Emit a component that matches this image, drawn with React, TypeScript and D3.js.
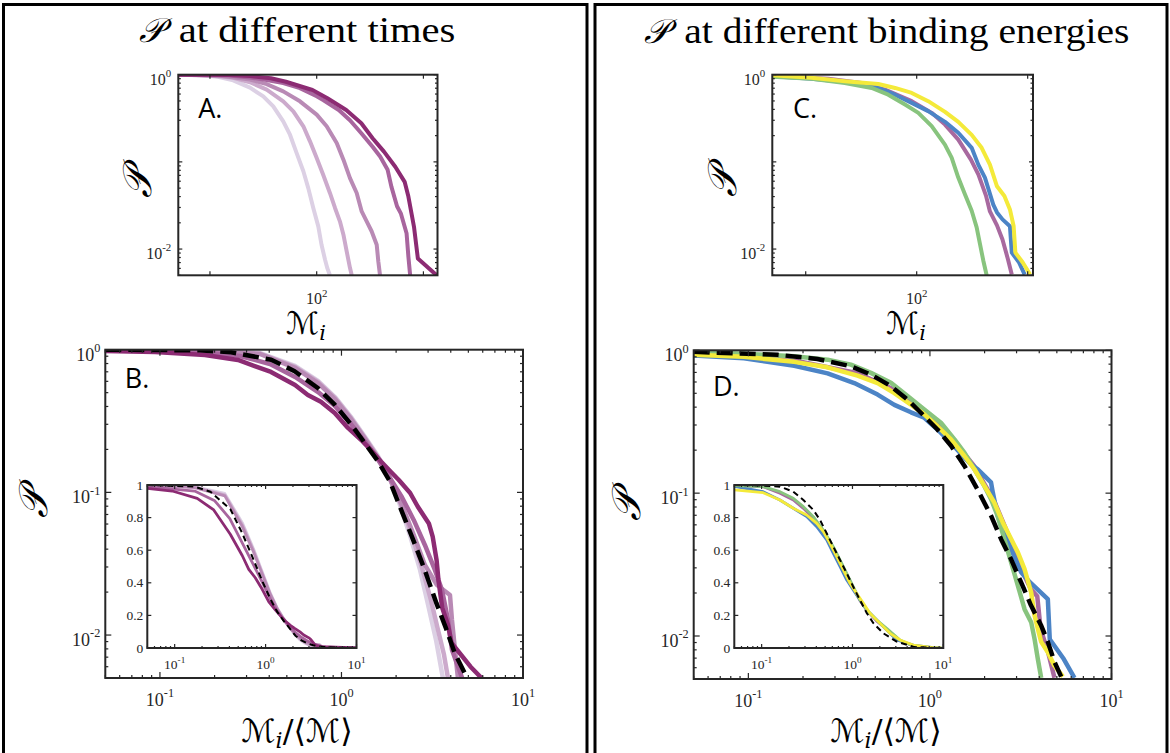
import React from 'react';
import * as d3 from 'd3';

type Pt = [number, number];

// ---------- Panel A : P vs M_i at different times (lightest -> darkest) ----------
const A_t5: Pt[] = [[5, 1], [8, 0.99], [11.6, 0.95], [16.5, 0.86], [23.7, 0.71], [31.6, 0.565], [39.2, 0.434], [48.6, 0.292], [56.2, 0.205], [64.9, 0.126], [75, 0.078], [83.4, 0.05], [92.9, 0.0296], [103.5, 0.0182], [111, 0.0112], [119.6, 0.0076], [126, 0.006], [133, 0.005]];
const A_t4: Pt[] = [[5, 1], [10, 0.98], [16.5, 0.92], [23.7, 0.82], [34, 0.673], [48.6, 0.495], [60.4, 0.38], [75, 0.256], [86.5, 0.172], [100, 0.111], [115, 0.0713], [133, 0.044], [148.5, 0.0296], [165, 0.0208], [178, 0.0146], [191, 0.0094], [205, 0.0061], [213, 0.005]];
const A_t3: Pt[] = [[5, 1], [12, 0.98], [23.7, 0.88], [34, 0.78], [48.6, 0.644], [69.7, 0.495], [100, 0.348], [124, 0.256], [154, 0.165], [178, 0.106], [205, 0.065], [237, 0.044], [264, 0.027], [294, 0.0208], [327, 0.016], [365, 0.0112], [378, 0.0072], [392, 0.005]];
const A_t2: Pt[] = [[5, 1], [15, 0.98], [23.7, 0.93], [34, 0.87], [48.6, 0.8], [69.7, 0.7], [100, 0.565], [116, 0.51], [161, 0.394], [205, 0.3], [262, 0.213], [334, 0.149], [393, 0.115], [462, 0.081], [501, 0.052], [566, 0.031], [614, 0.0257], [695, 0.0152], [723, 0.0082], [751, 0.005]];
const A_t1: Pt[] = [[5, 1], [15.4, 0.99], [23.7, 0.966], [37.3, 0.91], [51.5, 0.83], [91.2, 0.668], [126, 0.536], [189, 0.394], [262, 0.277], [334, 0.187], [427, 0.131], [545, 0.088], [667, 0.059], [723, 0.04], [816, 0.018], [887, 0.0078], [1330, 0.005]];
const timeColors = ['#dcd0e4', '#ccaacc', '#b98ab5', '#a8659e', '#8c2b73'];

// ---------- Panel C : P vs M_i at different binding energies ----------
const C_purple: Pt[] = [[5, 0.974], [16, 0.9], [32, 0.804], [51.8, 0.674], [90.2, 0.497], [136.5, 0.365], [180, 0.268], [237, 0.18], [308, 0.106], [360, 0.0714], [421, 0.041], [457, 0.027], [529, 0.0187], [593, 0.0129], [665, 0.0076], [719, 0.0051]];
const C_blue: Pt[] = [[5, 0.958], [11.3, 0.9], [22.6, 0.826], [45.1, 0.705], [63.8, 0.59], [90.2, 0.475], [127, 0.382], [180, 0.288], [237, 0.216], [313, 0.145], [359, 0.093], [412, 0.066], [490, 0.0324], [529, 0.0263], [593, 0.0219], [692, 0.0183], [719, 0.0091], [838, 0.007], [940, 0.0051]];
const C_green: Pt[] = [[5, 0.95], [11.3, 0.9], [22.5, 0.804], [39.3, 0.705], [55.4, 0.59], [78.5, 0.454], [103.5, 0.365], [136.5, 0.257], [179.6, 0.158], [206.5, 0.112], [237, 0.066], [272, 0.0426], [313, 0.0275], [347, 0.0177], [372, 0.0114], [398, 0.0074], [427, 0.005]];
const C_yellow: Pt[] = [[5, 0.984], [11.3, 0.92], [22.6, 0.841], [45.1, 0.783], [63.8, 0.705], [90.2, 0.618], [127, 0.497], [180, 0.375], [237, 0.288], [313, 0.204], [385, 0.145], [457, 0.093], [529, 0.0525], [617, 0.0406], [692, 0.0285], [747, 0.0184], [775, 0.0091], [903, 0.007], [1052, 0.0051]];
const energyColors = { blue: '#4c84c6', purple: '#a8699f', green: '#88c47e', yellow: '#f4ea3a' };

// ---------- Panel B : P vs M_i/<M> (times), also drawn in the inset ----------
const B_t1: Pt[] = [[0.05, 0.979], [0.094, 0.963], [0.177, 0.918], [0.269, 0.847], [0.409, 0.698], [0.555, 0.566], [0.653, 0.482], [0.77, 0.431], [0.918, 0.36], [1.086, 0.283], [1.285, 0.233], [1.459, 0.197], [1.656, 0.164], [1.874, 0.139], [2.07, 0.122], [2.39, 0.099], [2.63, 0.0796], [3.03, 0.0606], [3.18, 0.049], [3.34, 0.0337], [3.42, 0.0244], [3.59, 0.0155], [3.86, 0.0118], [4.04, 0.0088], [5.14, 0.006], [5.91, 0.005], [10, 0.0002]];
const B_t2: Pt[] = [[0.05, 0.99], [0.166, 0.963], [0.276, 0.903], [0.404, 0.794], [0.555, 0.644], [0.743, 0.505], [0.921, 0.403], [1.128, 0.301], [1.349, 0.226], [1.589, 0.169], [1.85, 0.126], [2.15, 0.0929], [2.5, 0.0641], [2.88, 0.0428], [3.27, 0.0286], [3.58, 0.0207], [3.86, 0.0128], [4.06, 0.0079], [4.62, 0.005], [10, 0.0002]];
const B_t3: Pt[] = [[0.05, 1], [0.166, 0.984], [0.356, 0.933], [0.555, 0.745], [0.743, 0.584], [0.921, 0.451], [1.128, 0.327], [1.349, 0.237], [1.589, 0.174], [1.85, 0.124], [2.15, 0.0816], [2.5, 0.0503], [2.88, 0.031], [3.36, 0.0224], [3.96, 0.0191], [4.06, 0.0128], [4.22, 0.0079], [4.38, 0.005], [10, 0.0002]];
const B_t4: Pt[] = [[0.05, 1], [0.166, 0.987], [0.356, 0.94], [0.555, 0.757], [0.743, 0.594], [0.921, 0.459], [1.128, 0.332], [1.349, 0.24], [1.589, 0.177], [1.85, 0.124], [2.13, 0.0816], [2.44, 0.0503], [2.78, 0.0295], [3.11, 0.0176], [3.4, 0.0109], [3.67, 0.0073], [3.86, 0.005], [10, 0.0002]];
const B_t5: Pt[] = [[0.05, 1], [0.166, 0.99], [0.356, 0.948], [0.555, 0.769], [0.743, 0.604], [0.921, 0.466], [1.128, 0.338], [1.349, 0.244], [1.589, 0.18], [1.85, 0.126], [2.1, 0.0816], [2.38, 0.0503], [2.71, 0.0286], [3.0, 0.0163], [3.32, 0.0092], [3.62, 0.005], [10, 0.0002]];
const B_fit: Pt[] = [[0.05, 1], [0.166, 0.99], [0.247, 0.959], [0.41, 0.851], [0.552, 0.706], [0.741, 0.539], [0.918, 0.412], [1.133, 0.298], [1.343, 0.222], [1.589, 0.165], [1.845, 0.12], [2.13, 0.0757], [2.48, 0.0467], [2.87, 0.0288], [3.33, 0.0168], [3.78, 0.011], [4.2, 0.0075], [4.78, 0.0054], [6, 0.0025], [10, 0.0002]];

// ---------- Panel D : P vs M_i/<M> (binding energies) ----------
const D_purple: Pt[] = [[0.05, 0.94], [0.179, 0.85], [0.4, 0.69], [0.64, 0.53], [0.93, 0.37], [1.3, 0.25], [1.75, 0.155], [2.26, 0.088], [2.8, 0.046], [3.2, 0.029], [3.6, 0.0212], [3.9, 0.019], [4.07, 0.0112], [4.5, 0.0075], [4.85, 0.0051]];
const D_blue: Pt[] = [[0.05, 0.92], [0.0946, 0.88], [0.179, 0.78], [0.273, 0.69], [0.383, 0.59], [0.515, 0.49], [0.637, 0.415], [0.786, 0.368], [0.931, 0.337], [1.1, 0.279], [1.306, 0.225], [1.548, 0.177], [1.684, 0.159], [1.834, 0.147], [1.995, 0.132], [2.17, 0.119], [2.22, 0.101], [2.36, 0.0694], [2.52, 0.056], [2.8, 0.0406], [3.18, 0.0279], [3.55, 0.0238], [4.46, 0.0181], [4.57, 0.0095], [5.46, 0.0069], [6.25, 0.0051]];
const D_green: Pt[] = [[0.05, 0.968], [0.0946, 0.947], [0.179, 0.908], [0.273, 0.86], [0.367, 0.794], [0.473, 0.695], [0.61, 0.592], [0.753, 0.478], [0.931, 0.385], [1.15, 0.311], [1.365, 0.238], [1.548, 0.192], [1.758, 0.147], [1.995, 0.112], [2.17, 0.0906], [2.36, 0.0694], [2.57, 0.0477], [2.8, 0.0328], [3.05, 0.0225], [3.32, 0.0154], [3.61, 0.0125], [3.77, 0.0095], [3.93, 0.0069], [4.1, 0.0051]];
const D_yellow: Pt[] = [[0.05, 0.93], [0.0946, 0.9], [0.179, 0.83], [0.273, 0.76], [0.399, 0.665], [0.515, 0.59], [0.637, 0.502], [0.786, 0.417], [0.931, 0.356], [1.1, 0.294], [1.306, 0.238], [1.548, 0.182], [1.758, 0.147], [1.995, 0.1125], [2.26, 0.0861], [2.52, 0.0624], [2.8, 0.0477], [3.05, 0.0385], [3.32, 0.0294], [3.61, 0.0202], [3.77, 0.0139], [3.93, 0.0112], [4.1, 0.0091], [4.46, 0.0077], [4.85, 0.0062], [5.4, 0.0052]];
const D_fit: Pt[] = [[0.05, 0.975], [0.145, 0.93], [0.24, 0.87], [0.367, 0.773], [0.473, 0.676], [0.61, 0.561], [0.753, 0.452], [0.931, 0.346], [1.1, 0.279], [1.31, 0.214], [1.55, 0.155], [1.83, 0.106], [2.17, 0.0695], [2.47, 0.0474], [2.8, 0.0344], [3.18, 0.0237], [3.6, 0.0164], [4.09, 0.0119], [4.46, 0.0091], [4.85, 0.0066], [5.28, 0.0052]];

// ---------- Inset of D (linear P) ----------
const Di_yellow: Pt[] = [[0.05, 0.97], [0.104, 0.953], [0.159, 0.908], [0.223, 0.857], [0.313, 0.816], [0.404, 0.765], [0.478, 0.714], [0.566, 0.642], [0.671, 0.56], [0.793, 0.479], [0.94, 0.397], [1.11, 0.335], [1.32, 0.274], [1.56, 0.213], [2.01, 0.151], [2.59, 0.09], [3.34, 0.049], [4.68, 0.018], [7.76, 0.002], [9.5, 0]];
const Di_green: Pt[] = [[0.05, 0.996], [0.104, 0.99], [0.159, 0.959], [0.223, 0.918], [0.288, 0.867], [0.371, 0.806], [0.478, 0.724], [0.615, 0.622], [0.73, 0.54], [0.865, 0.458], [1.02, 0.376], [1.21, 0.294], [1.44, 0.233], [1.85, 0.172], [2.38, 0.121], [3.34, 0.049], [4.68, 0.012], [7.76, 0.002], [9.5, 0]];
const Di_purple: Pt[] = [[0.05, 0.996], [0.104, 0.99], [0.159, 0.949], [0.223, 0.908], [0.288, 0.857], [0.371, 0.796], [0.478, 0.714], [0.615, 0.611], [0.73, 0.53], [0.865, 0.45], [1.02, 0.37], [1.21, 0.29], [1.44, 0.23], [1.85, 0.165], [2.38, 0.115], [3.34, 0.045], [4.68, 0.012], [7.76, 0.002], [9.5, 0]];
const Di_blue: Pt[] = [[0.05, 0.992], [0.104, 0.959], [0.159, 0.908], [0.223, 0.857], [0.313, 0.806], [0.404, 0.744], [0.52, 0.663], [0.615, 0.581], [0.73, 0.499], [0.865, 0.417], [1.02, 0.356], [1.21, 0.294], [1.44, 0.233], [1.85, 0.172], [2.19, 0.131], [3.07, 0.049], [4.68, 0.018], [7.76, 0.002], [9.5, 0]];
const Di_fit: Pt[] = [[0.05, 1], [0.104, 0.996], [0.159, 0.99], [0.223, 0.959], [0.288, 0.908], [0.371, 0.847], [0.44, 0.785], [0.52, 0.704], [0.615, 0.622], [0.73, 0.54], [0.865, 0.458], [1.02, 0.376], [1.21, 0.294], [1.44, 0.213], [1.7, 0.152], [2.19, 0.09], [3.07, 0.039], [4.68, 0.008], [7.76, 0], [9.5, 0]];

// ---------- ticks / labels ----------
const logLabelsAC = [1, 0.01];
const logLabelsBD = [1, 0.1, 0.01];
const xLabelsAC = [100];
const xLabelsBD = [0.1, 1, 10];
const insetYLabels = [0, 0.2, 0.4, 0.6, 0.8, 1];

const SERIF = "'Liberation Serif', 'Times New Roman', serif";
const MATH = "'DejaVu Serif', 'DejaVu Sans', serif";
const SANS = "'Open Sans', 'Liberation Sans', sans-serif";
const AX = '#262626';

interface Series { data: Pt[]; color: string; width: number; dash?: string }
interface Box { x0: number; x1: number; y0: number; y1: number }

const isMajor = (v: number) => Math.abs(Math.log10(v) - Math.round(Math.log10(v))) < 1e-6;

function Pow10({ x, y, v, size, anchor }: { x: number; y: number; v: number; size: number; anchor: string }) {
  const e = Math.round(Math.log10(v));
  return (
    <text x={x} y={y} fontSize={size} textAnchor={anchor} style={{ fontFamily: SERIF }} fill={AX}>
      10<tspan fontSize={size * 0.68} dy={-size * 0.48}>{e}</tspan>
    </text>
  );
}

function Panel(props: {
  id: string; box: Box; xDom: [number, number]; yDom: [number, number]; yLog: boolean;
  series: Series[]; xMinor: boolean; yMinor: boolean; xLabels: number[]; yLabels: number[];
  font: number; majorLen: number; minorLen: number; xLabOff: number; yLabGap: number; yLabDy: number;
}) {
  const { id, box, xDom, yDom, yLog, series, xMinor, yMinor, xLabels, yLabels, font, majorLen, minorLen, xLabOff, yLabGap, yLabDy } = props;
  const xs = d3.scaleLog().domain(xDom).range([box.x0, box.x1]);
  const ys: any = yLog ? d3.scaleLog().domain(yDom).range([box.y1, box.y0]) : d3.scaleLinear().domain(yDom).range([box.y1, box.y0]);
  const line = d3.line<Pt>().x(d => xs(d[0])).y(d => ys(d[1]));
  const xt = xs.ticks().filter(v => xMinor || isMajor(v));
  const yt: number[] = yLog ? ys.ticks().filter((v: number) => yMinor || isMajor(v)) : ys.ticks(5);
  const w = box.x1 - box.x0, h = box.y1 - box.y0;
  return (
    <g>
      <defs>
        <clipPath id={id}><rect x={box.x0} y={box.y0} width={w} height={h} /></clipPath>
      </defs>
      <rect x={box.x0} y={box.y0} width={w} height={h} fill="#fff" />
      <g clipPath={`url(#${id})`}>
        {series.map((s, i) => (
          <path key={i} d={line(s.data) || ''} fill="none" stroke={s.color} strokeWidth={s.width}
            strokeDasharray={s.dash} strokeLinejoin="round" />
        ))}
      </g>
      <g stroke={AX} strokeWidth={1.2}>
        {xt.map((v, i) => {
          const L = isMajor(v) ? majorLen : minorLen; const x = xs(v);
          return (<g key={'x' + i}>
            <line x1={x} x2={x} y1={box.y1} y2={box.y1 - L} />
            <line x1={x} x2={x} y1={box.y0} y2={box.y0 + L} />
          </g>);
        })}
        {yt.map((v, i) => {
          const L = !yLog || isMajor(v) ? majorLen : minorLen; const y = ys(v);
          return (<g key={'y' + i}>
            <line x1={box.x0} x2={box.x0 + L} y1={y} y2={y} />
            <line x1={box.x1} x2={box.x1 - L} y1={y} y2={y} />
          </g>);
        })}
      </g>
      <rect x={box.x0} y={box.y0} width={w} height={h} fill="none" stroke={AX} strokeWidth={2} />
      {xLabels.map((v, i) => (
        <Pow10 key={'xl' + i} x={xs(v)} y={box.y1 + xLabOff} v={v} size={font} anchor="middle" />
      ))}
      {yLabels.map((v, i) => yLog ? (
        <Pow10 key={'yl' + i} x={box.x0 - yLabGap} y={ys(v) + yLabDy} v={v} size={font} anchor="end" />
      ) : (
        <text key={'yl' + i} x={box.x0 - yLabGap} y={ys(v) + yLabDy} fontSize={font} textAnchor="end" style={{ fontFamily: SERIF }} fill={AX}>{String(v)}</text>
      ))}
    </g>
  );
}

const boxA: Box = { x0: 178.3, x1: 437.5, y0: 74.7, y1: 275.3 };
const boxC: Box = { x0: 772.3, x1: 1033, y0: 74.7, y1: 275.3 };
const boxB: Box = { x0: 105.3, x1: 523, y0: 349.7, y1: 678 };
const boxD: Box = { x0: 693.7, x1: 1111.5, y0: 350.3, y1: 679 };
const boxBi: Box = { x0: 147.3, x1: 356.5, y0: 485, y1: 648 };
const boxDi: Box = { x0: 734.3, x1: 943.3, y0: 485, y1: 648 };

export default function App() {
  const aSeries: Series[] = [A_t5, A_t4, A_t3, A_t2, A_t1].map((d, i) => ({ data: d, color: timeColors[i], width: 4 }));
  const bCurves = [B_t5, B_t4, B_t3, B_t2, B_t1];
  const bSeries: Series[] = [...bCurves.map((d, i) => ({ data: d, color: timeColors[i], width: 4.5 })),
    { data: B_fit, color: '#000', width: 4.5, dash: '16 7' }];
  const biSeries: Series[] = [...bCurves.map((d, i) => ({ data: d, color: timeColors[i], width: 2.8 })),
    { data: B_fit, color: '#000', width: 2, dash: '6 4' }];
  const cSeries: Series[] = [
    { data: C_purple, color: energyColors.purple, width: 4 },
    { data: C_blue, color: energyColors.blue, width: 4 },
    { data: C_green, color: energyColors.green, width: 4 },
    { data: C_yellow, color: energyColors.yellow, width: 4 },
  ];
  const dSeries: Series[] = [
    { data: D_purple, color: energyColors.purple, width: 4.5 },
    { data: D_blue, color: energyColors.blue, width: 4.5 },
    { data: D_green, color: energyColors.green, width: 4.5 },
    { data: D_yellow, color: energyColors.yellow, width: 4.5 },
    { data: D_fit, color: '#000', width: 4.5, dash: '16 7' },
  ];
  const diSeries: Series[] = [
    { data: Di_purple, color: energyColors.purple, width: 2.8 },
    { data: Di_blue, color: energyColors.blue, width: 2.8 },
    { data: Di_green, color: energyColors.green, width: 2.8 },
    { data: Di_yellow, color: energyColors.yellow, width: 2.8 },
    { data: Di_fit, color: '#000', width: 2, dash: '6 4' },
  ];

  const common = { majorLen: 4, minorLen: 2.5 };

  return (
    <svg width={1170} height={753} xmlns="http://www.w3.org/2000/svg"
      style={{ position: 'absolute', left: 0, top: 0, display: 'block', background: '#fff' }}>
      <rect x={0} y={0} width={1170} height={753} fill="#fff" />
      {/* outer frames */}
      <rect x={3.5} y={4.5} width={583.5} height={800} fill="none" stroke="#000" strokeWidth={3} />
      <rect x={595} y={4.5} width={572} height={800} fill="none" stroke="#000" strokeWidth={3} />

      {/* titles */}
      <text x={139} y={42} fontFamily={MATH} fontSize={34} fontStyle="italic" fill="#000">𝒫</text>
      <text x={178.8} y={42.3} style={{ fontFamily: SERIF }} fontSize={36} textLength={276.6} lengthAdjust="spacingAndGlyphs" fill="#000">at different times</text>
      <text x={643.6} y={43} fontFamily={MATH} fontSize={34} fontStyle="italic" fill="#000">𝒫</text>
      <text x={684.3} y={43} style={{ fontFamily: SERIF }} fontSize={36} textLength={445} lengthAdjust="spacingAndGlyphs" fill="#000">at different binding energies</text>

      <Panel id="clipA" box={boxA} xDom={[5.05, 1355]} yDom={[0.005, 1]} yLog series={aSeries}
        xMinor={false} yMinor xLabels={xLabelsAC} yLabels={logLabelsAC} font={16} {...common}
        xLabOff={29} yLabGap={7} yLabDy={10} />
      <Panel id="clipC" box={boxC} xDom={[5.0, 1117]} yDom={[0.005, 1]} yLog series={cSeries}
        xMinor={false} yMinor xLabels={xLabelsAC} yLabels={logLabelsAC} font={16} {...common}
        xLabOff={29} yLabGap={7} yLabDy={10} />
      <Panel id="clipB" box={boxB} xDom={[0.05, 10]} yDom={[0.005, 1]} yLog series={bSeries}
        xMinor yMinor xLabels={xLabelsBD} yLabels={logLabelsBD} font={18} majorLen={6} minorLen={3}
        xLabOff={28} yLabGap={5} yLabDy={11} />
      <Panel id="clipD" box={boxD} xDom={[0.05, 10]} yDom={[0.005, 1]} yLog series={dSeries}
        xMinor yMinor xLabels={xLabelsBD} yLabels={logLabelsBD} font={18} majorLen={6} minorLen={3}
        xLabOff={28} yLabGap={5} yLabDy={11} />
      <Panel id="clipBi" box={boxBi} xDom={[0.05, 10]} yDom={[0, 1]} yLog={false} series={biSeries}
        xMinor yMinor={false} xLabels={xLabelsBD} yLabels={insetYLabels} font={13.5} majorLen={4} minorLen={2}
        xLabOff={21} yLabGap={4} yLabDy={4.5} />
      <Panel id="clipDi" box={boxDi} xDom={[0.05, 10]} yDom={[0, 1]} yLog={false} series={diSeries}
        xMinor yMinor={false} xLabels={xLabelsBD} yLabels={insetYLabels} font={13.5} majorLen={4} minorLen={2}
        xLabOff={21} yLabGap={4} yLabDy={4.5} />

      {/* panel letters */}
      <text x={198.3} y={118} fontFamily={SANS} fontSize={27} fill="#000">A.</text>
      <text x={793} y={118} fontFamily={SANS} fontSize={27} fill="#000">C.</text>
      <text x={124.7} y={388} fontFamily={SANS} fontSize={27} fill="#000">B.</text>
      <text x={713} y={396} fontFamily={SANS} fontSize={27} fill="#000">D.</text>

      {/* y-axis labels */}
      <text transform="translate(151,183) rotate(-90)" textAnchor="middle" fontFamily={MATH} fontSize={40} fontStyle="italic" fill="#000">𝒫</text>
      <text transform="translate(736,182) rotate(-90)" textAnchor="middle" fontFamily={MATH} fontSize={40} fontStyle="italic" fill="#000">𝒫</text>
      <text transform="translate(47,503) rotate(-90)" textAnchor="middle" fontFamily={MATH} fontSize={40} fontStyle="italic" fill="#000">𝒫</text>
      <text transform="translate(640,506) rotate(-90)" textAnchor="middle" fontFamily={MATH} fontSize={40} fontStyle="italic" fill="#000">𝒫</text>

      {/* x-axis labels */}
      <text x={306} y={334} textAnchor="middle" fontFamily={MATH} fontSize={31} fill="#000">ℳ<tspan fontSize={21} fontStyle="italic" dy={6}>i</tspan></text>
      <text x={906} y={334} textAnchor="middle" fontFamily={MATH} fontSize={31} fill="#000">ℳ<tspan fontSize={21} fontStyle="italic" dy={6}>i</tspan></text>
      <text x={297} y={742} textAnchor="middle" fontFamily={MATH} fontSize={32} fill="#000">ℳ<tspan fontSize={22} fontStyle="italic" dy={6}>i</tspan><tspan dy={-6}>/⟨ℳ⟩</tspan></text>
      <text x={886} y={742} textAnchor="middle" fontFamily={MATH} fontSize={32} fill="#000">ℳ<tspan fontSize={22} fontStyle="italic" dy={6}>i</tspan><tspan dy={-6}>/⟨ℳ⟩</tspan></text>
    </svg>
  );
}
